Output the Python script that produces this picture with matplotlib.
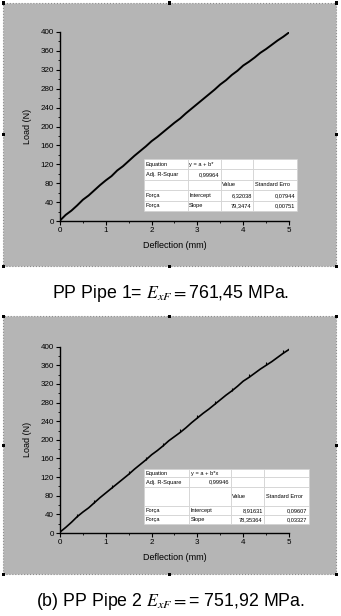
import numpy as np
import matplotlib
matplotlib.use('Agg')
import matplotlib.pyplot as plt
from matplotlib.patches import Rectangle
from matplotlib.ticker import MultipleLocator

plt.rcParams['font.family'] = ['Liberation Sans', 'DejaVu Sans']
plt.rcParams['mathtext.fontset'] = 'stix'

# deflection (mm) sampled every 0.125 mm
deflection = [0.0, 0.125, 0.25, 0.375, 0.5, 0.625, 0.75, 0.875, 1.0, 1.125, 1.25, 1.375,
              1.5, 1.625, 1.75, 1.875, 2.0, 2.125, 2.25, 2.375, 2.5, 2.625, 2.75, 2.875,
              3.0, 3.125, 3.25, 3.375, 3.5, 3.625, 3.75, 3.875, 4.0, 4.125, 4.25, 4.375,
              4.5, 4.625, 4.75, 4.875, 5.0]
load_pipe1 = [1, 13, 22, 33, 45, 54, 65, 76, 86, 95, 107, 116, 127, 138, 148, 158, 169, 178,
              188, 198, 208, 217, 228, 238, 248, 258, 268, 278, 289, 298, 309, 318, 329, 337,
              346, 356, 364, 373, 382, 390, 399]
load_pipe2 = [2, 12, 23, 35, 45, 54, 65, 76, 86, 96, 106, 116, 126, 137, 147, 157, 168, 177,
              187, 198, 207, 216, 226, 237, 247, 257, 266, 276, 286, 296, 305, 315, 326, 334,
              343, 352, 360, 368, 377, 386, 394]

table_pipe1 = [['Equation', 'y = a + b*', '', ''],
               ['Adj. R-Squar', '0,99964', '', ''],
               ['', '', 'Value', 'Standard Erro'],
               ['Força', 'Intercept', '6,32038', '0,07944'],
               ['Força', 'Slope', '79,3474', '0,00751']]
table_pipe2 = [['Equation', 'y = a + b*x', '', ''],
               ['Adj. R-Square', '0,99946', '', ''],
               ['', '', 'Value', 'Standard Error'],
               ['Força', 'Intercept', '8,91631', '0,09607'],
               ['Força', 'Slope', '78,35364', '0,03327']]

captions = ['PP Pipe 1= $E_{xF}=$761,45 MPa.',
            '(b) PP Pipe 2 $E_{xF}=$= 751,92 MPa.']

W, H = 341, 616
fig = plt.figure(figsize=(W / 100, H / 100), dpi=100)
fig.patch.set_facecolor('white')

gray = '#b5b5b5'
panels = [(3, 3, 333, 263), (3, 316, 333, 258)]  # px: x, y(top), w, h
for (px, py, pw, ph) in panels:
    fig.add_artist(Rectangle((px / W, 1 - (py + ph) / H), pw / W, ph / H,
                             transform=fig.transFigure, facecolor=gray,
                             edgecolor='#8c8c8c', lw=0.8, ls=':', zorder=0))
    # little selection handles
    for hx in (px, px + pw / 2, px + pw):
        for hy in (py, py + ph / 2, py + ph):
            if hx == px + pw / 2 and hy == py + ph / 2:
                continue
            fig.add_artist(Rectangle(((hx - 1.5) / W, 1 - (hy + 1.5) / H), 3 / W, 3 / H,
                                     transform=fig.transFigure, facecolor='black',
                                     edgecolor='none', zorder=1))

axes_pos = [[60 / W, 1 - 221 / H, 229 / W, 189 / H],
            [60 / W, 1 - 533 / H, 229 / W, 186.3 / H]]
table_bbox = [[0.367, 0.053, 0.668, 0.275],
              [0.367, 0.048, 0.7205, 0.295]]
col_w = [[.287, .216, .209, .288], [.273, .255, .2, .273]]
row_h = [[1, 1, 1, 1, 1], [7.7, 10, 18.3, 9, 8.7]]
loads = [load_pipe1, load_pipe2]
tables = [table_pipe1, table_pipe2]
cap_y = [293, 601]

for i in range(2):
    ax = fig.add_axes(axes_pos[i])
    ax.patch.set_alpha(0)
    if i == 0:
        ax.plot(deflection, loads[i], color='black', lw=1.4)
    else:
        ax.plot(deflection, loads[i], color='black', lw=1.2, marker=2, ms=2.5,
                markevery=3, mew=0.8)
    ax.set_xlim(0, 5)
    ax.set_ylim(0, 400)
    ax.xaxis.set_major_locator(MultipleLocator(1))
    ax.xaxis.set_minor_locator(MultipleLocator(0.5))
    ax.yaxis.set_major_locator(MultipleLocator(40))
    ax.yaxis.set_minor_locator(MultipleLocator(20))
    for s in ('top', 'right'):
        ax.spines[s].set_visible(False)
    ax.spines['left'].set_linewidth(1.0)
    ax.spines['bottom'].set_linewidth(1.0)
    ax.tick_params(which='major', direction='out', length=3, width=0.8, labelsize=5.8, pad=1.5)
    ax.tick_params(which='minor', direction='out', length=1.5, width=0.6)
    ax.set_xlabel('Deflection (mm)', fontsize=6.5, labelpad=5)
    ax.set_ylabel('Load (N)', fontsize=6.5, labelpad=6)

    tb = ax.table(cellText=tables[i], bbox=table_bbox[i], cellLoc='left')
    tb.auto_set_font_size(False)
    tb.set_fontsize(4.1)
    for (r, c), cell in tb.get_celld().items():
        cell.set_facecolor('white')
        cell.set_edgecolor('#d0d0d0')
        cell.set_linewidth(0.5)
        cell.set_width(col_w[i][c])
        cell.set_height(row_h[i][r])
        cell.PAD = 0.04
        if (c >= 2 and r >= 3) or (c == 1 and r == 1):
            cell.get_text().set_ha('right')
            cell._loc = 'right'
    tb.set_zorder(5)

    fig.text(0.5, 1 - cap_y[i] / H, captions[i], ha='center', va='center', fontsize=12.8)

fig.savefig('out.png', dpi=100)
